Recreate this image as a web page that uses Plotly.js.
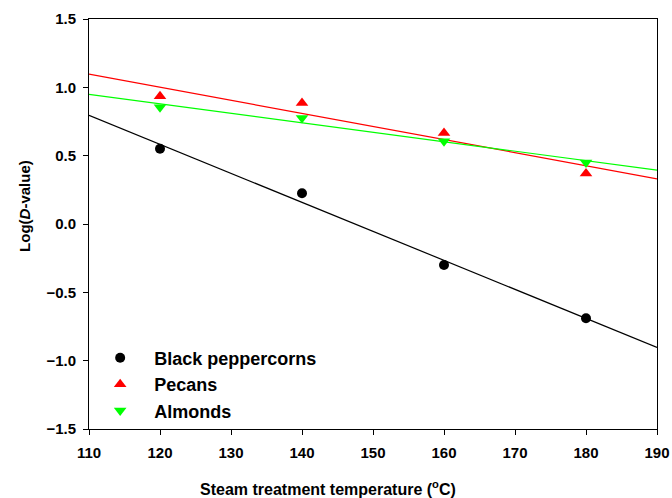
<!DOCTYPE html>
<html>
<head>
<meta charset="utf-8">
<script src="https://cdn.plot.ly/plotly-3.0.1.min.js"></script>
<style>html,body{margin:0;padding:0;background:#fff;}#chart{width:672px;height:498px;}</style>
</head>
<body>
<div id="chart"></div>
<script>
const temps = [120, 140, 160, 180];
const blackPeppercorns = [0.55, 0.225, -0.30, -0.69];
const pecans = [0.935, 0.885, 0.665, 0.37];
const almonds = [0.855, 0.775, 0.605, 0.45];
const seriesNames = ['Black peppercorns', 'Pecans', 'Almonds'];
const xTitle = 'Steam treatment temperature (<sup>o</sup>C)';
const yTitle = 'Log(<i>D</i>-value)';
const fitRange = [110, 190];

function fit(xs, ys) {
  const n = xs.length;
  const mx = xs.reduce((a, b) => a + b, 0) / n;
  const my = ys.reduce((a, b) => a + b, 0) / n;
  let sxy = 0, sxx = 0;
  for (let i = 0; i < n; i++) { sxy += (xs[i] - mx) * (ys[i] - my); sxx += (xs[i] - mx) ** 2; }
  const b = sxy / sxx, a = my - b * mx;
  return fitRange.map(x => a + b * x);
}

const specs = [
  {y: blackPeppercorns, color: '#000000', symbol: 'circle', size: 10},
  {y: pecans, color: '#ff0000', symbol: 'triangle-up', size: 11},
  {y: almonds, color: '#00ff00', symbol: 'triangle-down', size: 11}
];

const traces = [];
specs.forEach((s) => {
  traces.push({x: fitRange, y: fit(temps, s.y), mode: 'lines', line: {color: s.color, width: 1.2}, showlegend: false, hoverinfo: 'skip'});
});
specs.forEach((s, i) => {
  traces.push({x: temps, y: s.y, mode: 'markers', name: seriesNames[i], marker: {color: s.color, symbol: s.symbol, size: s.size}});
});

const fam = '"Liberation Sans", Arial, sans-serif';
const layout = {
  width: 672, height: 498,
  margin: {l: 89, r: 15, t: 19, b: 69},
  paper_bgcolor: '#fff', plot_bgcolor: '#fff',
  font: {family: fam, color: '#000'},
  showlegend: true,
  legend: {x: -0.005, y: 0.218, xanchor: 'left', yanchor: 'top', bgcolor: 'rgba(0,0,0,0)',
           itemwidth: 58,
           font: {family: fam, size: 18, color: '#000', weight: 'bold'}, tracegroupgap: 0},
  xaxis: {
    range: [110, 190], dtick: 10, tick0: 110,
    showgrid: false, zeroline: false,
    showline: true, linecolor: '#000', linewidth: 1, mirror: true,
    ticks: 'outside', ticklen: 5, tickcolor: '#000', ticklabelstandoff: 5,
    tickfont: {family: fam, size: 15, weight: 'bold', color: '#000'}
  },
  yaxis: {
    range: [-1.5, 1.5], dtick: 0.5, tick0: -1.5, tickformat: '.1f',
    showgrid: false, zeroline: false,
    showline: true, linecolor: '#000', linewidth: 1, mirror: true,
    ticks: 'outside', ticklen: 5, tickcolor: '#000', ticklabelstandoff: 4,
    tickfont: {family: fam, size: 15, weight: 'bold', color: '#000'}
  },
  annotations: [
    {text: xTitle, xref: 'paper', yref: 'paper', x: 0.4208, y: -0.144, xanchor: 'center', yanchor: 'middle',
     showarrow: false, font: {family: fam, size: 16, weight: 'bold', color: '#000'}},
    {text: yTitle, xref: 'paper', yref: 'paper', x: -0.1127, y: 0.544, xanchor: 'center', yanchor: 'middle',
     textangle: -90, showarrow: false, font: {family: fam, size: 15, weight: 'bold', color: '#000'}}
  ]
};

Plotly.newPlot('chart', traces, layout, {displayModeBar: false, staticPlot: true});
</script>
</body>
</html>
